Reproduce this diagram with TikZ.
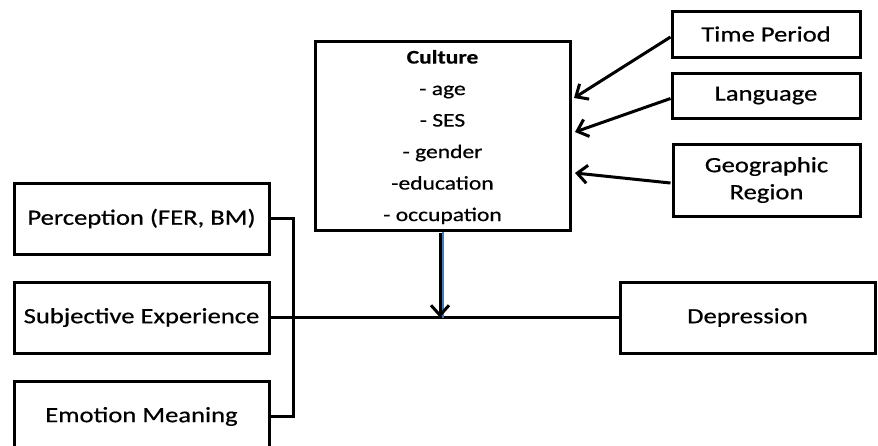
\documentclass[tikz,border=0pt]{standalone}
\usepackage{fontspec}
\usepackage{graphicx}
\setmainfont{Carlito}
\newfontfamily\boxfont{Carlito}[FakeBold=0.5]
\usetikzlibrary{arrows.meta,calc}
\newcommand\wx[1]{\scalebox{1.22}[1]{#1}}
\tikzset{
  box/.style={draw=black, line width=3pt, inner sep=0pt, align=center,
    font=\boxfont\fontsize{21.8}{27}\selectfont},
  link/.style={draw=black, line width=3pt},
  arr/.style={draw=black, line width=3pt, -{Straight Barb[length=10pt,width=18pt,line width=3pt]}}
}
\begin{document}
\begin{tikzpicture}[x=1pt,y=-1pt]
\useasboundingbox (0,0) rectangle (878,445);
% left boxes
\node[box, minimum width=255, minimum height=71] (perc) at (141.5,218.5) {\wx{Perception (FER, BM)}};
\node[box, minimum width=255, minimum height=71] (subj) at (141.5,317.5) {\wx{Subjective Experience}};
\node[box, minimum width=255, minimum height=71] (emo) at (141.5,416.5) {\wx{Emotion Meaning}};
% culture
\node[box, minimum width=255, minimum height=186] (cult) at (442.5,136)
 {\wx{\fontsize{19.3}{31.5}\selectfont\begin{tabular}{@{}c@{}}\textbf{Culture}\\- age\\- SES\\- gender\\-education\\- occupation\end{tabular}}};
% right boxes
\node[box, minimum width=188, minimum height=46] (time) at (766,34) {\wx{Time Period}};
\node[box, minimum width=188, minimum height=45] (lang) at (766,95.5) {\wx{Language}};
\node[box, minimum width=187, minimum height=72] (geo) at (766.5,180) {\wx{Geographic}\\\wx{Region}};
\node[box, minimum width=255, minimum height=71] (dep) at (747.5,317.5) {\wx{Depression}};
% coordinates
\coordinate (bx) at (293,218.5);
\coordinate (t1) at (574,98);
\coordinate (t2) at (575,132);
\coordinate (t3) at (575,173);
\coordinate (j) at (440,317.5);
\coordinate (jb) at (443,317.5);
\coordinate (cs) at (440,233);
% bracket
\draw[link] (perc.east) -- (bx) |- (emo.east);
% main line
\draw[link] (subj.east) -- (dep.west);
% culture arrow
\draw[line width=1.4pt, draw={rgb,255:red,70;green,120;blue,190}] (cult.south -| jb) -- (jb);
\draw[arr] (cs) -- (j);
% arrows into culture
\draw[arr] ($(time.west)+(0,3)$) -- (t1);
\draw[arr] ($(lang.west)+(0,3)$) -- (t2);
\draw[arr] ($(geo.west)+(-1,3)$) -- (t3);
\end{tikzpicture}
\end{document}
